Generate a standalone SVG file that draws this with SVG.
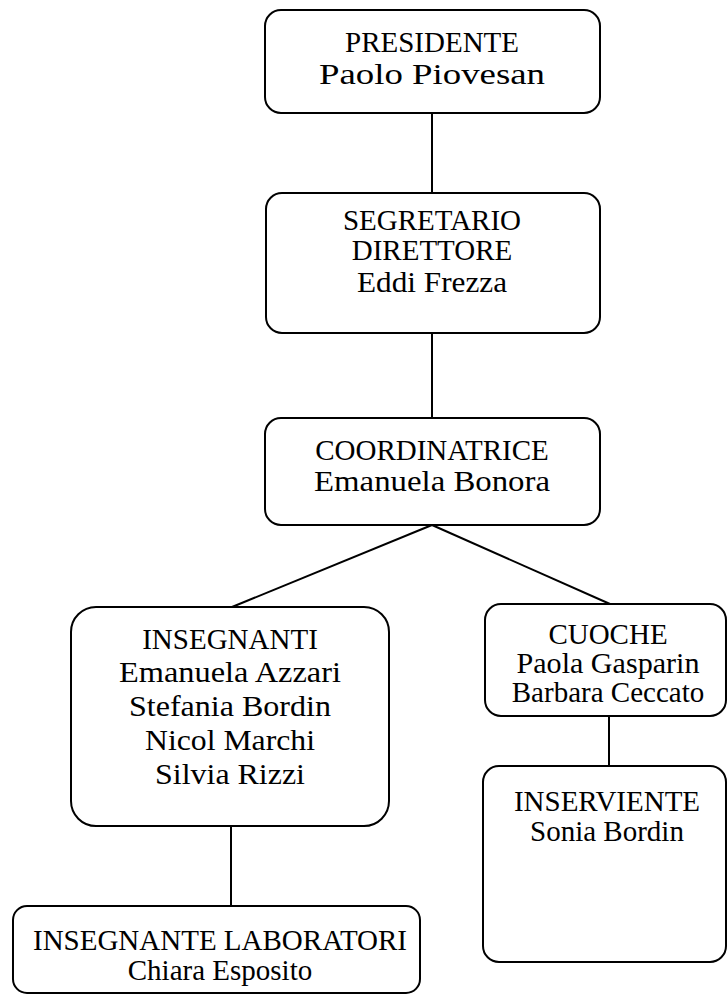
<svg xmlns="http://www.w3.org/2000/svg" width="728" height="996" viewBox="0 0 728 996">
<style>
.box{fill:#fff;stroke:#000;stroke-width:2}
.t{font-family:"Liberation Serif","Times New Roman",serif;font-size:29px;fill:#000;text-anchor:middle}
.n{font-size:30px}
.c{stroke:#000;stroke-width:2;fill:none}
</style>
<rect width="728" height="996" fill="#fff"/>
<g id="connectors">
<line class="c" x1="432" y1="113" x2="432" y2="193"/>
<line class="c" x1="432" y1="333" x2="432" y2="418"/>
<line class="c" x1="432" y1="525" x2="232" y2="607"/>
<line class="c" x1="432" y1="525" x2="610" y2="604"/>
<line class="c" x1="231" y1="826" x2="231" y2="906"/>
<line class="c" x1="609" y1="716" x2="609" y2="766"/>
</g>
<g id="presidente">
<rect class="box" x="265" y="10" width="335" height="103" rx="16"/>
<text class="t" x="432" y="52">PRESIDENTE</text>
<text class="t n" x="432" y="84" textLength="226" lengthAdjust="spacingAndGlyphs">Paolo Piovesan</text>
</g>
<g id="segretario">
<rect class="box" x="266" y="193" width="334" height="140" rx="16"/>
<text class="t" x="432" y="230">SEGRETARIO</text>
<text class="t" x="432" y="260">DIRETTORE</text>
<text class="t n" x="432" y="292" textLength="150" lengthAdjust="spacingAndGlyphs">Eddi Frezza</text>
</g>
<g id="coordinatrice">
<rect class="box" x="265" y="418" width="335" height="107" rx="16"/>
<text class="t" x="432" y="460">COORDINATRICE</text>
<text class="t n" x="432" y="491" textLength="236" lengthAdjust="spacingAndGlyphs">Emanuela Bonora</text>
</g>
<g id="insegnanti">
<rect class="box" x="71" y="607" width="318" height="219" rx="25"/>
<text class="t" x="230" y="649">INSEGNANTI</text>
<text class="t n" x="230" y="682" textLength="222" lengthAdjust="spacingAndGlyphs">Emanuela Azzari</text>
<text class="t n" x="230" y="716" textLength="202" lengthAdjust="spacingAndGlyphs">Stefania Bordin</text>
<text class="t n" x="230" y="750" textLength="170" lengthAdjust="spacingAndGlyphs">Nicol Marchi</text>
<text class="t n" x="230" y="784" textLength="150" lengthAdjust="spacingAndGlyphs">Silvia Rizzi</text>
</g>
<g id="cuoche">
<rect class="box" x="485" y="604" width="241" height="112" rx="16"/>
<text class="t" x="608" y="644">CUOCHE</text>
<text class="t" x="608" y="673" textLength="183" lengthAdjust="spacingAndGlyphs">Paola Gasparin</text>
<text class="t" x="608" y="702">Barbara Ceccato</text>
</g>
<g id="inserviente">
<rect class="box" x="483" y="766" width="243" height="196" rx="16"/>
<text class="t" x="607" y="811">INSERVIENTE</text>
<text class="t" x="607" y="841">Sonia Bordin</text>
</g>
<g id="laboratori">
<rect class="box" x="13" y="906" width="407" height="87" rx="14"/>
<text class="t" x="220" y="950">INSEGNANTE LABORATORI</text>
<text class="t" x="220" y="980">Chiara Esposito</text>
</g>
</svg>
